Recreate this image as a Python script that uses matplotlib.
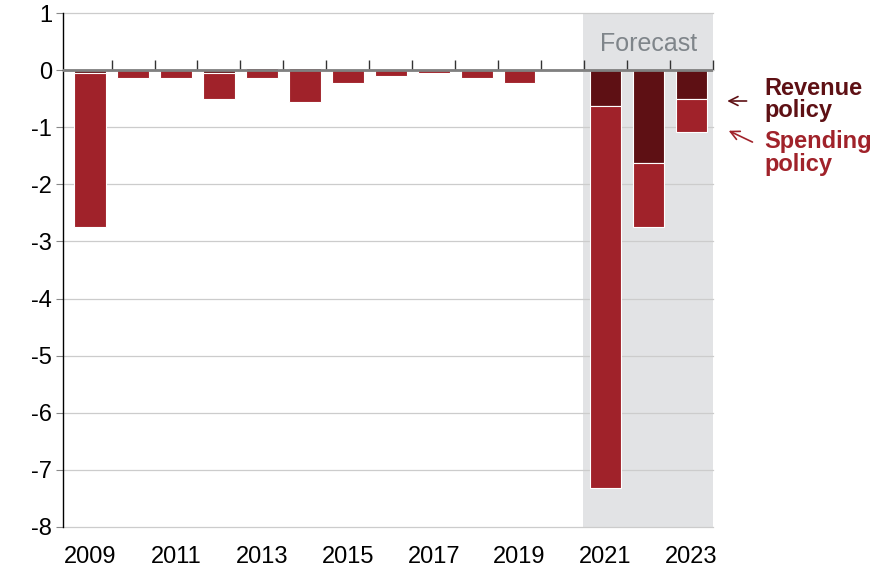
import numpy as np
import matplotlib.pyplot as plt

# fiscal impact of policy, % of GDP
years = np.arange(2009, 2024)
revenue = [-0.05, 0.0, 0.0, -0.05, 0.04, 0.03, 0.0, 0.0, 0.0, 0.0, 0.0,
           0.0, -0.63, -1.62, -0.50]
spending = [-2.70, -0.14, -0.14, -0.45, -0.13, -0.55, -0.22, -0.10, -0.05, -0.13, -0.23,
            0.0, -6.69, -1.13, -0.58]
yticks = np.arange(-8, 2)
xlabels = np.arange(2009, 2024, 2)

c_rev = '#5e1014'
c_spend = '#a0222a'

plt.rcParams['font.family'] = ['Liberation Sans', 'DejaVu Sans']

fig = plt.figure(figsize=(8.79, 5.68), dpi=100)
ax = fig.add_axes([0.0717, 0.0722, 0.7393, 0.9048])

# forecast shading
ax.axvspan(2020.47, 2023.5, color='#e2e3e5', zorder=0, lw=0)
ax.text(2022.0, 0.45, 'Forecast', ha='center', va='center', fontsize=18, color='#7f858a')

rev = np.array(revenue)
spd = np.array(spending)
# negative revenue stacks from zero, spending below it; positive revenue sits above zero
spd_base = np.where(rev < 0, rev, 0.0)
ax.bar(years, rev, width=0.74, color=c_rev, edgecolor='white', lw=0.8, zorder=3)
ax.bar(years, spd, width=0.74, bottom=spd_base, color=c_spend, edgecolor='white', lw=0.8, zorder=3)
ax.axhline(0, color='#808080', lw=2, zorder=4)

ax.set_xlim(2008.37, 2023.5)
ax.set_ylim(-8, 1)
ax.set_yticks(yticks)
ax.set_yticklabels([str(v) for v in yticks])
ax.set_xticks(xlabels)
ax.tick_params(axis='x', length=0, labelsize=17, pad=14)
ax.tick_params(axis='y', length=5, labelsize=17, color='#888888', pad=3)
ax.grid(axis='y', color='#cccccc', lw=0.9, zorder=1)
for gl in ax.get_ygridlines():
    gl.set_clip_on(False)

for s in ['top', 'right', 'bottom']:
    ax.spines[s].set_visible(False)
ax.spines['left'].set_color('black')
ax.spines['left'].set_linewidth(1.0)

# ticks between the years on the zero line
zero = ax.secondary_xaxis(8 / 9)
zero.set_xticks(np.arange(2009.5, 2024, 1.0))
zero.set_xticklabels([])
zero.tick_params(length=7, width=1, color='#333333', direction='out')
zero.spines['bottom'].set_visible(False)

# labels
lab = dict(fontsize=17, fontweight='bold', va='baseline', ha='left', clip_on=False)
ax.text(2024.70, -0.44, 'Revenue', color=c_rev, **lab)
ax.text(2024.70, -0.82, 'policy', color=c_rev, **lab)
ax.text(2024.70, -1.37, 'Spending', color=c_spend, **lab)
ax.text(2024.70, -1.77, 'policy', color=c_spend, **lab)
ax.annotate('', xy=(2023.77, -0.54), xytext=(2024.35, -0.54), annotation_clip=False,
            arrowprops=dict(arrowstyle='->', color=c_rev, lw=1.2, mutation_scale=16))
ax.annotate('', xy=(2023.81, -1.04), xytext=(2024.48, -1.28), annotation_clip=False,
            arrowprops=dict(arrowstyle='->', color=c_spend, lw=1.2, mutation_scale=16))

fig.savefig('out.png', dpi=100)
